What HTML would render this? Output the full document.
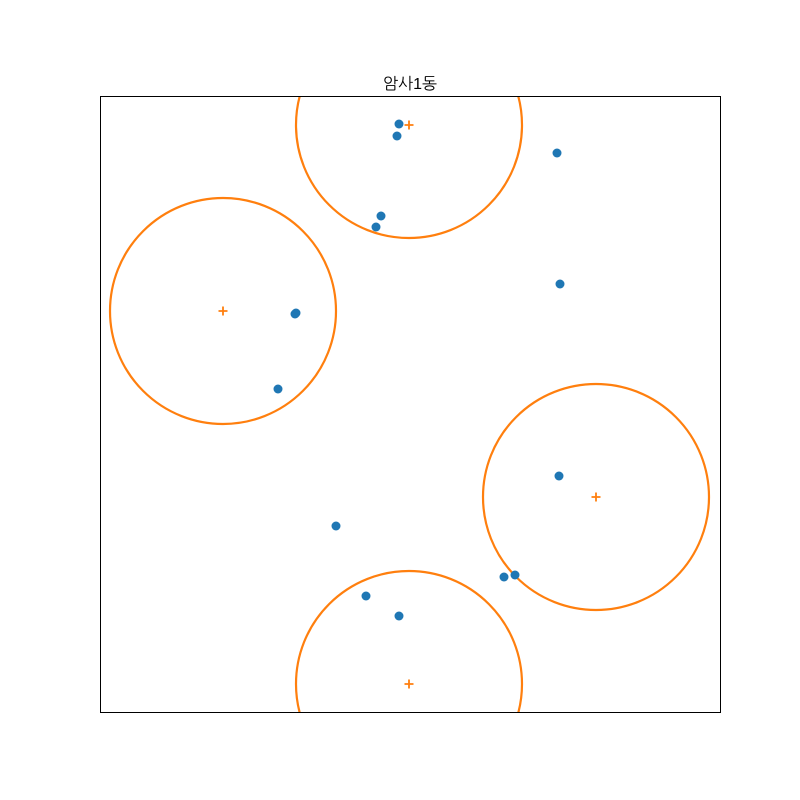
<!DOCTYPE html>
<html><head><meta charset="utf-8"><style>
body{margin:0;background:#fff}
svg{display:block}
</style></head><body>
<svg width="800" height="800" xmlns="http://www.w3.org/2000/svg">
<rect width="800" height="800" fill="#fff"/>
<text x="410" y="89" text-anchor="middle" font-family="'Liberation Sans','NanumGothic','Noto Sans CJK KR',sans-serif" font-size="16" fill="#000">암사1동</text>
<defs><clipPath id="clip"><rect x="100" y="96" width="620" height="616"/></clipPath></defs>
<g id="plot" clip-path="url(#clip)"></g>
<rect x="100.5" y="96.5" width="620" height="616" fill="none" stroke="#000" stroke-width="1"/>
</svg>
<script>
const pointX=[299,297,457,281,276,460,195,196,178,459,236,404,415,266,299];
const pointY=[588,576,559,496,485,428,398,399,323,236,186,135,137,116,96];
const centerX=[309,123,496,309];
const centerY=[587,401,215,28];
const radius=[113,113,113,113];
const X0=100,Y0=712;
function sx(v){return X0+v;}
function sy(v){return Y0-v;}
const NS='http://www.w3.org/2000/svg';
const g=document.getElementById('plot');
for(let i=0;i<centerX.length;i++){
  const c=document.createElementNS(NS,'circle');
  c.setAttribute('cx',sx(centerX[i]));c.setAttribute('cy',sy(centerY[i]));
  c.setAttribute('r',radius[i]);c.setAttribute('fill','none');
  c.setAttribute('stroke','#ff7f0e');c.setAttribute('stroke-width','2.2');
  
  
  g.appendChild(c);
  const p=document.createElementNS(NS,'path');
  const x=sx(centerX[i]),y=sy(centerY[i]);
  p.setAttribute('d',`M${x-4.5},${y}H${x+4.5}M${x},${y-4.5}V${y+4.5}`);
  p.setAttribute('stroke','#ff7f0e');p.setAttribute('stroke-width','1.8');
  
  
  g.appendChild(p);
}
for(let i=0;i<pointX.length;i++){
  const c=document.createElementNS(NS,'circle');
  c.setAttribute('cx',sx(pointX[i]));c.setAttribute('cy',sy(pointY[i]));
  c.setAttribute('r',4.5);c.setAttribute('fill','#1f77b4');
  
  
  g.appendChild(c);
}
</script>
</body></html>
